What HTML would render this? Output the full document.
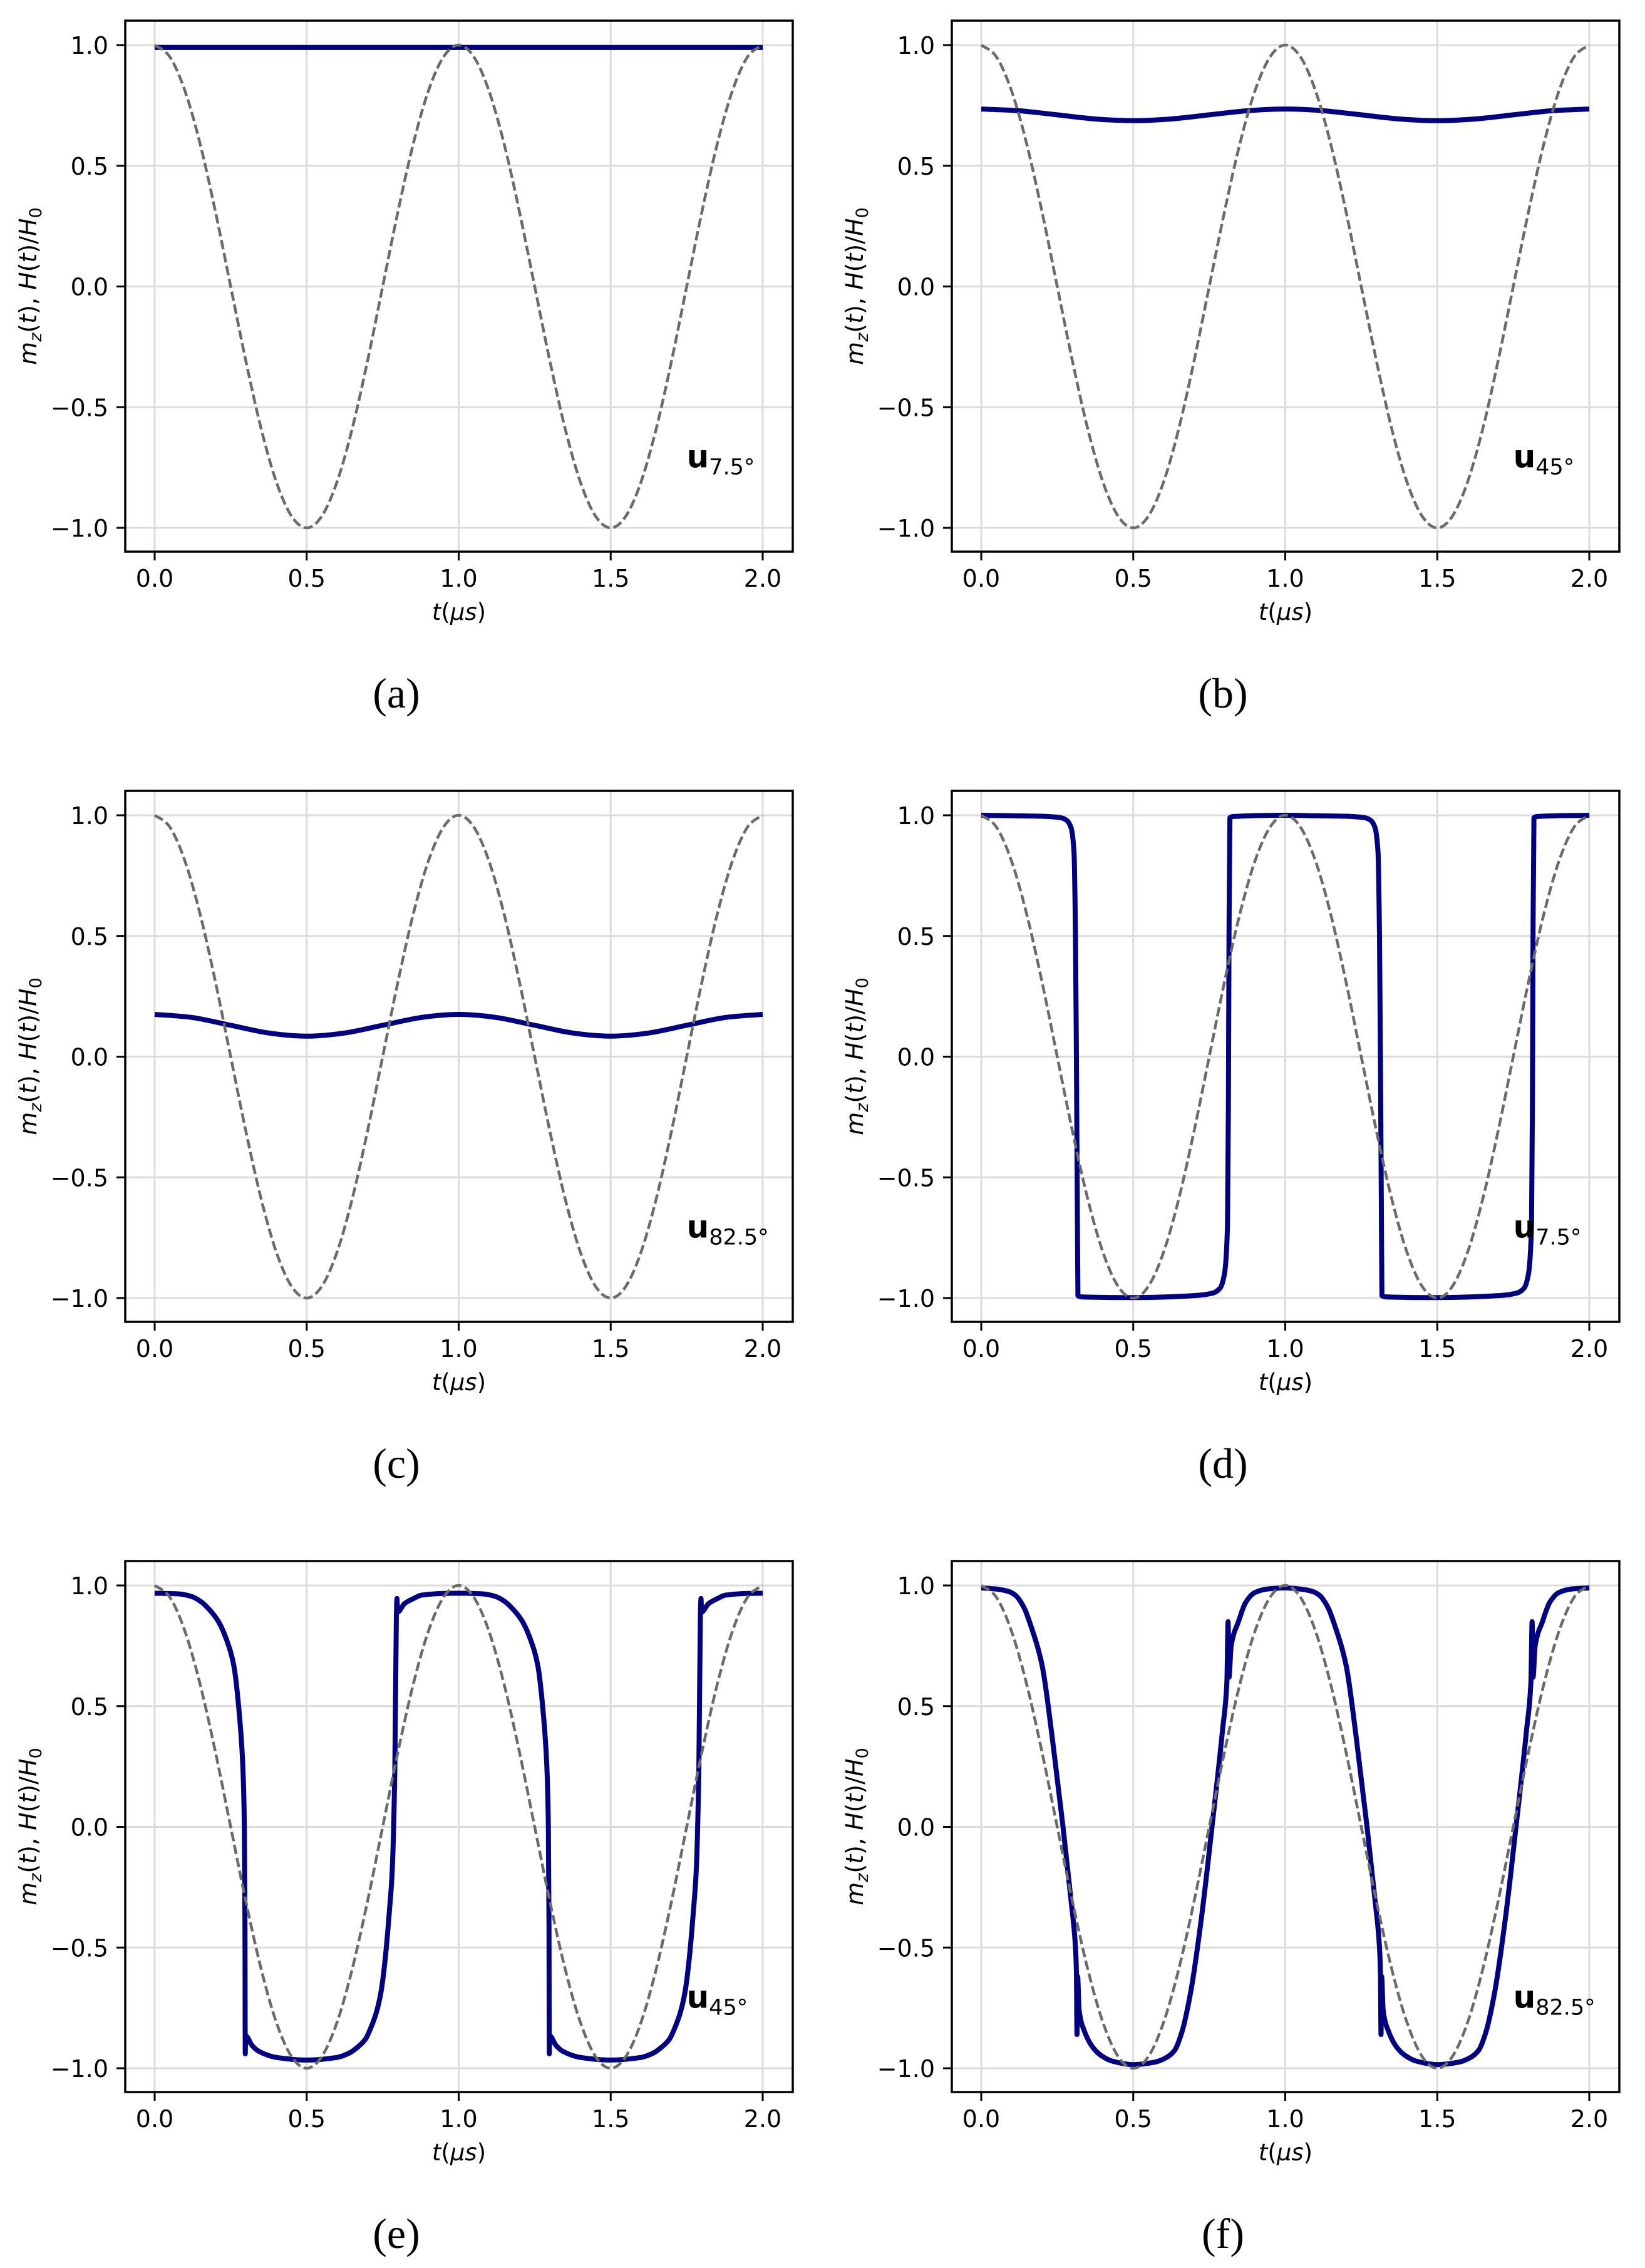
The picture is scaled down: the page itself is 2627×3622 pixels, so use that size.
<!DOCTYPE html>
<html><head><meta charset="utf-8"><style>
html,body{margin:0;padding:0;background:#fff;}
svg{display:block;}
text{font-family:"DejaVu Sans","Liberation Sans",sans-serif;}
.cap{font-family:"Liberation Serif",serif;}
</style></head>
<body>
<svg id="fig" xmlns="http://www.w3.org/2000/svg" width="2627" height="3622" viewBox="0 0 2627 3622">
<rect width="2627" height="3622" fill="#fff"/>
</svg>
<script>
// ---- data ----
const xTicks = [0.0, 0.5, 1.0, 1.5, 2.0];
const xTickLabels = ["0.0", "0.5", "1.0", "1.5", "2.0"];
const yTicks = [1.0, 0.5, 0.0, -0.5, -1.0];
const yTickLabels = ["1.0", "0.5", "0.0", "\u22120.5", "\u22121.0"];
const captions = ["(a)", "(b)", "(c)", "(d)", "(e)", "(f)"];
const annotSub = ["7.5\u00b0", "45\u00b0", "82.5\u00b0", "7.5\u00b0", "45\u00b0", "82.5\u00b0"];
// field H(t)/H0 sampled every 0.05
const fieldT = [0,0.05,0.1,0.15,0.2,0.25,0.3,0.35,0.4,0.45,0.5,0.55,0.6,0.65,0.7,0.75,0.8,0.85,0.9,0.95,1.0,1.05,1.1,1.15,1.2,1.25,1.3,1.35,1.4,1.45,1.5,1.55,1.6,1.65,1.7,1.75,1.8,1.85,1.9,1.95,2.0];
const fieldV = [1,0.951,0.809,0.588,0.309,0,-0.309,-0.588,-0.809,-0.951,-1,-0.951,-0.809,-0.588,-0.309,0,0.309,0.588,0.809,0.951,1,0.951,0.809,0.588,0.309,0,-0.309,-0.588,-0.809,-0.951,-1,-0.951,-0.809,-0.588,-0.309,0,0.309,0.588,0.809,0.951,1];
// magnetization series
const smoothT = [0,0.125,0.25,0.375,0.5,0.625,0.75,0.875,1.0,1.125,1.25,1.375,1.5,1.625,1.75,1.875,2.0];
const mzA = [0.99,0.99,0.99,0.99,0.99,0.99,0.99,0.99,0.99,0.99,0.99,0.99,0.99,0.99,0.99,0.99,0.99];
const mzB = [0.735,0.728,0.711,0.694,0.687,0.694,0.711,0.728,0.735,0.728,0.711,0.694,0.687,0.694,0.711,0.728,0.735];
const mzC = [0.175,0.162,0.13,0.098,0.085,0.098,0.13,0.162,0.175,0.162,0.13,0.098,0.085,0.098,0.13,0.162,0.175];
const tD = [0,0.1,0.2,0.26,0.28,0.295,0.305,0.31,0.313,0.316,0.318,0.33,0.5,0.7,0.76,0.785,0.8,0.81,0.813,0.815,0.818,0.83,1.0,1.1,1.2,1.26,1.28,1.295,1.305,1.31,1.313,1.316,1.318,1.33,1.5,1.7,1.76,1.785,1.8,1.81,1.813,1.815,1.818,1.83,2.0];
const mzD = [1,0.998,0.996,0.99,0.98,0.95,0.85,0.5,0.0,-0.6,-0.99,-0.995,-0.998,-0.99,-0.98,-0.96,-0.9,-0.7,-0.2,0.5,0.99,0.995,1.0,0.998,0.996,0.99,0.98,0.95,0.85,0.5,0.0,-0.6,-0.99,-0.995,-0.998,-0.99,-0.98,-0.96,-0.9,-0.7,-0.2,0.5,0.99,0.995,1.0];
const tE = [0,0.08,0.12,0.15,0.18,0.21,0.235,0.26,0.279,0.29,0.295,0.297,0.298,0.299,0.32,0.343,0.4,0.5,0.6,0.64,0.67,0.693,0.715,0.73,0.745,0.758,0.772,0.781,0.79,0.795,0.797,0.799,0.822,0.85,0.878,0.95,1.0,1.08,1.12,1.15,1.18,1.21,1.235,1.26,1.279,1.29,1.295,1.297,1.298,1.299,1.32,1.343,1.4,1.5,1.6,1.64,1.67,1.693,1.715,1.73,1.745,1.758,1.772,1.781,1.79,1.795,1.797,1.799,1.822,1.85,1.878,1.95,2.0];
const mzE = [0.968,0.965,0.955,0.935,0.9,0.85,0.78,0.67,0.46,0.25,0.0,-0.4,-0.94,-0.865,-0.905,-0.93,-0.955,-0.966,-0.955,-0.937,-0.91,-0.88,-0.82,-0.765,-0.68,-0.55,-0.35,-0.19,0.24,0.874,0.946,0.89,0.925,0.945,0.96,0.967,0.968,0.965,0.955,0.935,0.9,0.85,0.78,0.67,0.46,0.25,0.0,-0.4,-0.94,-0.865,-0.905,-0.93,-0.955,-0.966,-0.955,-0.937,-0.91,-0.88,-0.82,-0.765,-0.68,-0.55,-0.35,-0.19,0.24,0.874,0.946,0.89,0.925,0.945,0.96,0.967,0.968];
const tF = [0,0.05,0.09,0.112,0.14,0.164,0.2,0.234,0.269,0.295,0.31,0.313,0.315,0.317,0.322,0.339,0.365,0.392,0.43,0.5,0.57,0.61,0.636,0.66,0.689,0.724,0.759,0.794,0.808,0.812,0.815,0.822,0.846,0.87,0.899,0.94,1.0,1.05,1.09,1.112,1.14,1.164,1.2,1.234,1.269,1.295,1.31,1.313,1.315,1.317,1.322,1.339,1.365,1.392,1.43,1.5,1.57,1.61,1.636,1.66,1.689,1.724,1.759,1.794,1.808,1.812,1.815,1.822,1.846,1.87,1.899,1.94,2.0];
const mzF = [0.99,0.985,0.975,0.96,0.91,0.83,0.67,0.365,0.0,-0.3,-0.5,-0.6,-0.86,-0.62,-0.76,-0.845,-0.91,-0.945,-0.97,-0.985,-0.975,-0.955,-0.926,-0.85,-0.684,-0.38,0.0,0.405,0.6,0.85,0.62,0.75,0.85,0.93,0.97,0.985,0.99,0.985,0.975,0.96,0.91,0.83,0.67,0.365,0.0,-0.3,-0.5,-0.6,-0.86,-0.62,-0.76,-0.845,-0.91,-0.945,-0.97,-0.985,-0.975,-0.955,-0.926,-0.85,-0.684,-0.38,0.0,0.405,0.6,0.85,0.62,0.75,0.85,0.93,0.97,0.985,0.99];

const NS = "http://www.w3.org/2000/svg";
const svg = document.getElementById("fig");
function mk(tag, attrs, parent) {
  const e = document.createElementNS(NS, tag);
  for (const k in attrs) e.setAttribute(k, attrs[k]);
  (parent || svg).appendChild(e);
  return e;
}
function spline(pts) {
  let d = "M" + pts[0][0] + "," + pts[0][1];
  for (let i = 0; i < pts.length - 1; i++) {
    const p0 = pts[Math.max(0, i - 1)], p1 = pts[i], p2 = pts[i + 1], p3 = pts[Math.min(pts.length - 1, i + 2)];
    const c1x = p1[0] + (p2[0] - p0[0]) / 6, c1y = p1[1] + (p2[1] - p0[1]) / 6;
    const c2x = p2[0] - (p3[0] - p1[0]) / 6, c2y = p2[1] - (p3[1] - p1[1]) / 6;
    d += " C" + c1x + "," + c1y + " " + c2x + "," + c2y + " " + p2[0] + "," + p2[1];
  }
  return d;
}
// monotone cubic (Fritsch-Carlson) path, x strictly increasing
function monotone(pts) {
  const n = pts.length, dx = [], s = [], m = [];
  for (let i = 0; i < n - 1; i++) { dx[i] = pts[i+1][0] - pts[i][0]; s[i] = (pts[i+1][1] - pts[i][1]) / dx[i]; }
  m[0] = s[0]; m[n-1] = s[n-2];
  for (let i = 1; i < n - 1; i++) {
    if (s[i-1] * s[i] <= 0) m[i] = 0;
    else { const w1 = 2*dx[i] + dx[i-1], w2 = dx[i] + 2*dx[i-1]; m[i] = (w1 + w2) / (w1 / s[i-1] + w2 / s[i]); }
  }
  let d = "M" + pts[0][0] + "," + pts[0][1];
  for (let i = 0; i < n - 1; i++) {
    const h = dx[i] / 3;
    d += " C" + (pts[i][0] + h) + "," + (pts[i][1] + m[i]*h) + " " + (pts[i+1][0] - h) + "," + (pts[i+1][1] - m[i+1]*h) + " " + pts[i+1][0] + "," + pts[i+1][1];
  }
  return d;
}

const panels = [
  {col:0,row:0,t:smoothT,m:mzA,smooth:true},
  {col:1,row:0,t:smoothT,m:mzB,smooth:true},
  {col:0,row:1,t:smoothT,m:mzC,smooth:true},
  {col:1,row:1,t:tD,m:mzD,smooth:false},
  {col:0,row:2,t:tE,m:mzE,smooth:false},
  {col:1,row:2,t:tF,m:mzF,smooth:false}
];

panels.forEach((p, i) => {
  const dx = p.col * 1320, dy = p.row * 1230;
  const L = 200 + dx, R = 1266 + dx, T = 33 + dy, B = 881 + dy;
  const X = t => dx + 247 + t * 485.5;
  const Y = v => dy + 457.5 - v * 385.5;
  const g = mk("g", {});
  
  
  xTicks.forEach(t => {
    const l = mk("line", {x1:X(t), x2:X(t), y1:T, y2:B, stroke:"#dcdcdc", "stroke-width":3}, g);
    
    
  });
  yTicks.forEach(v => {
    const l = mk("line", {x1:L, x2:R, y1:Y(v), y2:Y(v), stroke:"#dcdcdc", "stroke-width":3}, g);
    
    
  });
  const fp = fieldT.map((t, k) => [X(t), Y(fieldV[k])]);
  const blue = p.t.map((t, k) => [X(t), Y(p.m[k])]);
  const bl = mk("path", {d: p.smooth ? spline(blue) : monotone(blue), fill:"none", stroke:"#000080", "stroke-width":8, "stroke-linejoin":"round", "stroke-linecap":"butt"}, g);
  
  
  const fl = mk("path", {d: spline(fp), fill:"none", stroke:"#6b6b6b", "stroke-width":4.5, "stroke-dasharray":"15 6"}, g);
  
  
  const fr = mk("rect", {x:L, y:T, width:R-L, height:B-T, fill:"none", stroke:"#000", "stroke-width":3.5}, g);
  
  
  xTicks.forEach((t, k) => {
    const tk = mk("line", {x1:X(t), x2:X(t), y1:B, y2:B+14, stroke:"#000", "stroke-width":3}, g);
    
    
    const tx = mk("text", {x:X(t), y:B+56, "font-size":38, "text-anchor":"middle"}, g);
    tx.textContent = xTickLabels[k];
    
    
  });
  yTicks.forEach((v, k) => {
    const tk = mk("line", {x1:L-14, x2:L, y1:Y(v), y2:Y(v), stroke:"#000", "stroke-width":3}, g);
    
    
    const tx = mk("text", {x:L-27, y:Y(v)+14, "font-size":38, "text-anchor":"end"}, g);
    tx.textContent = yTickLabels[k];
    
    
  });
  const xl = mk("text", {x:(L+R)/2, y:dy+990, "font-size":37, "text-anchor":"middle"}, g);
  xl.innerHTML = '<tspan font-style="italic">t</tspan>(<tspan font-style="italic">μs</tspan>)';
  
  
  const yl = mk("text", {x:0, y:0, "font-size":38, "text-anchor":"middle", transform:"translate(" + (dx+58) + "," + (dy+457) + ") rotate(-90)"}, g);
  yl.innerHTML = '<tspan font-style="italic">m</tspan><tspan font-style="italic" font-size="27" dy="8">z</tspan><tspan dy="-8">(</tspan><tspan font-style="italic">t</tspan>), <tspan font-style="italic">H</tspan>(<tspan font-style="italic">t</tspan>)/<tspan font-style="italic">H</tspan><tspan font-size="27" dy="8">0</tspan>';
  
  
  const an = mk("text", {x:X(1.75), y:Y(-0.75), "font-size":50}, g);
  an.innerHTML = '<tspan font-weight="bold">u</tspan><tspan font-size="35" dy="11">' + annotSub[i] + '</tspan>';
  
  
  const cp = mk("text", {x:633+dx, y:1130+dy, "font-size":68, "text-anchor":"middle", "class":"cap"}, g);
  cp.textContent = captions[i];
  
  
});
</script>
</body></html>
